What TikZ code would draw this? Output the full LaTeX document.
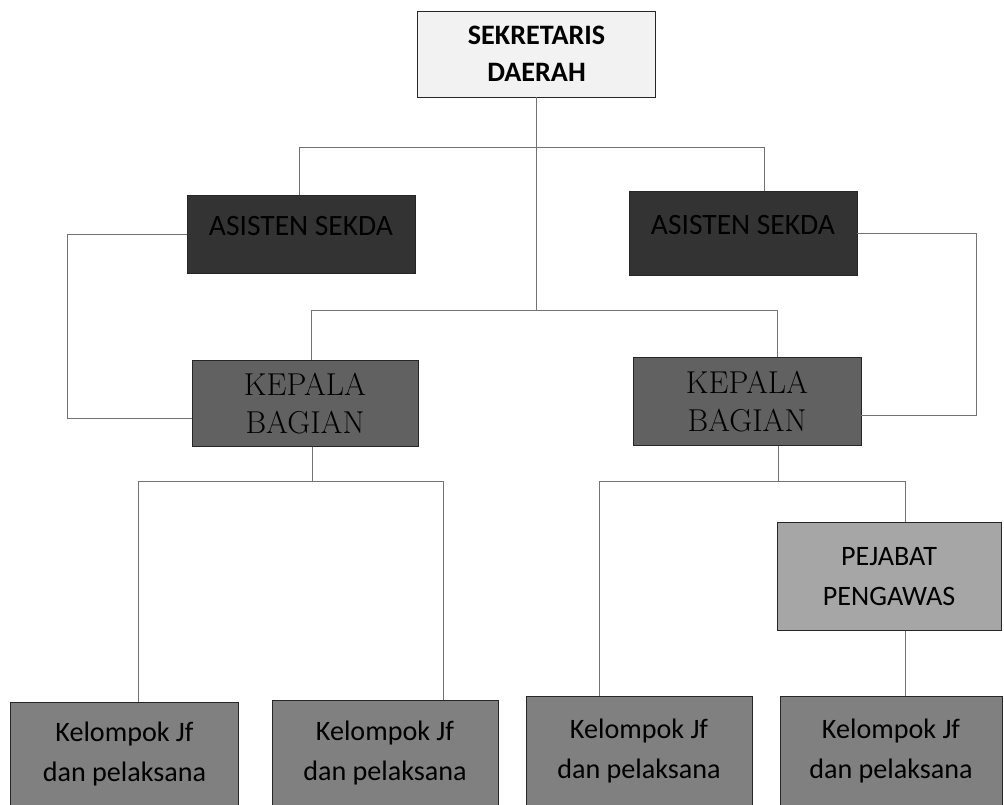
\documentclass[tikz,border=0pt]{standalone}
\usepackage{fontspec}
\newfontfamily\calibri{Carlito}
\tikzset{
    box/.style={rectangle, draw=black!85, line width=0.6pt, align=center, inner sep=0pt},
    topbox/.style={box, fill=black!5, font=\calibri\bfseries\fontsize{20}{26}\selectfont},
    asbox/.style={box, fill=black!80, text=black, text depth=0.45cm, font=\calibri\fontsize{21}{25}\selectfont},
    kbbox/.style={box, fill=black!62, font=\fontsize{22.5}{27}\selectfont},
    pjbox/.style={box, fill=black!35, font=\calibri\fontsize{20}{28}\selectfont},
    jfbox/.style={box, fill=black!50, font=\calibri\fontsize{20}{28}\selectfont},
    line/.style={draw=black!55, line width=0.5pt}
}
\begin{document}
\begin{tikzpicture}[x=0.025cm, y=-0.025cm]
        \useasboundingbox (0,0) rectangle (1004,804);
        \clip (0,0) rectangle (1004,804);

        \node (SD) [topbox, minimum width=5.93cm, minimum height=2.15cm] at (536.5,54) {SEKRETARIS\\DAERAH};
        \node (AS1) [asbox, minimum width=5.7cm, minimum height=1.93cm] at (301,234.5) {ASISTEN SEKDA};
        \node (AS2) [asbox, minimum width=5.7cm, minimum height=2.12cm] at (743,233.5) {ASISTEN SEKDA};
        \node (KB1) [kbbox, minimum width=5.65cm, minimum height=2.13cm] at (305,403.5) {KEPALA\\BAGIAN};
        \node (KB2) [kbbox, minimum width=5.7cm, minimum height=2.18cm] at (747,401.5) {KEPALA\\BAGIAN};
        \node (PJ) [pjbox, minimum width=5.6cm, minimum height=2.68cm] at (889,576.5) {PEJABAT\\PENGAWAS};

        % Kelompok Jf
        \node (JF1) [jfbox, minimum width=5.68cm, minimum height=2.6cm] at (124.5,754) {Kelompok Jf\\dan pelaksana};
        \node (JF2) [jfbox, minimum width=5.65cm, minimum height=2.65cm] at (385,753) {Kelompok Jf\\dan pelaksana};
        \node (JF3) [jfbox, minimum width=5.65cm, minimum height=2.75cm] at (639,751) {Kelompok Jf\\dan pelaksana};
        \node (JF4) [jfbox, minimum width=5.55cm, minimum height=2.75cm] at (891,751) {Kelompok Jf\\dan pelaksana};

        % Lines
        \coordinate (A1) at (299,147);
        \coordinate (A2) at (764,147);
        \coordinate (K1) at (311,310);
        \coordinate (K2) at (777,310);
        \coordinate (L2) at (67,418);
        \coordinate (R2) at (976,415);
        \coordinate (M1) at (312,481);
        \coordinate (B1) at (138,481);
        \coordinate (B2) at (443,481);
        \coordinate (M2) at (778,481);
        \coordinate (B3) at (599,481);
        \coordinate (B4) at (905,481);

        \draw [line] (SD.south) -- (SD.south |- K1);
        \draw [line] (AS1.north -| A1) -- (A1) -- (A2) -- (AS2.north -| A2);
        \draw [line] (KB1.north -| K1) -- (K1) -- (K2) -- (KB2.north -| K2);
        \draw [line] (AS1.west) -| (L2) -- (KB1.west |- L2);
        \draw [line] (AS2.east) -| (R2) -- (KB2.east |- R2);
        \draw [line] (KB1.south -| M1) -- (M1);
        \draw [line] (JF1.north -| B1) -- (B1) -- (B2) -- (JF2.north -| B2);
        \draw [line] (KB2.south -| M2) -- (M2);
        \draw [line] (JF3.north -| B3) -- (B3) -- (B4) -- (PJ.north -| B4);
        \draw [line] (PJ.south -| B4) -- (JF4.north -| B4);
    \end{tikzpicture}
\end{document}
